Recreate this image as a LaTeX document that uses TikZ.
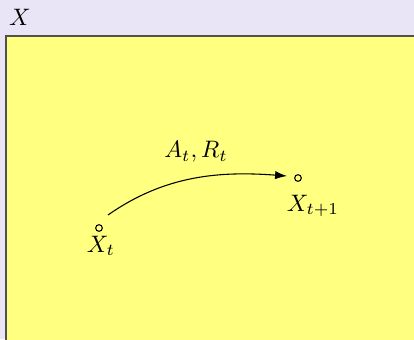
\documentclass[tikz,border=0pt]{standalone}
\usetikzlibrary{arrows.meta}
\definecolor{lav}{RGB}{233,229,247}
\definecolor{yel}{RGB}{255,255,128}
\definecolor{edge}{RGB}{80,80,80}
\begin{document}
\begin{tikzpicture}[x=0.42pt,y=-0.42pt,
  state/.style={circle,draw,line width=0.45pt,inner sep=0pt,minimum size=2.8pt},
  lbl/.style={inner sep=0pt}]
\useasboundingbox (0,0) rectangle (414,339);
\clip (0,0) rectangle (414,339);
\fill[lav] (0,0) rectangle (414,339);
\filldraw[fill=yel,draw=edge,line width=0.6pt] (6,36) rectangle (430,360);
\node[lbl] (xlab) at (20,17) {$X$};
\node[state] (s1) at (99,228) {};
\node[state] (s2) at (298,178) {};
\node[lbl] (xt) at (101,246) {$X_t$};
\node[lbl] (xt1) at (313,206) {$X_{t+1}$};
\coordinate (a) at (108,215);
\coordinate (b) at (287,176);
\draw[-{Latex[length=5pt,width=3.5pt]},line width=0.45pt] (a) .. controls (165,175) and (220,171) .. (b);
\node[lbl] (ar) at (196,152) {$A_t, R_t$};
\end{tikzpicture}
\end{document}
